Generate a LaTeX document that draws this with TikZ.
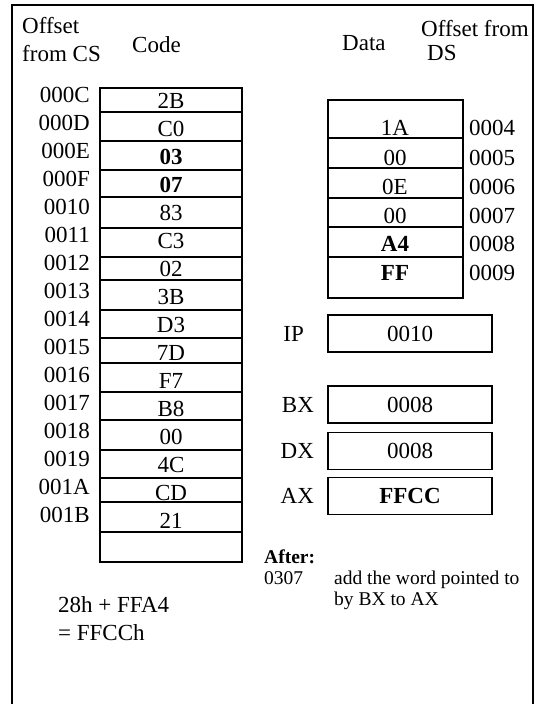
\documentclass[tikz,border=0pt]{standalone}
\usepackage{fontspec}
\setmainfont{Liberation Serif}
\usetikzlibrary{positioning}
\begin{document}
\begin{tikzpicture}[x=1pt,y=-1pt,line join=miter,
  big/.style={font=\fontsize{23}{26}\selectfont,inner sep=0pt},
  small/.style={font=\fontsize{19.5}{22}\selectfont,inner sep=0pt},
  cellline/.style={line width=1.8pt},
  reg/.style={draw,line width=1.8pt,minimum width=164pt,minimum height=37pt,inner sep=0pt,font=\fontsize{23}{26}\selectfont}]
  \useasboundingbox (0,0) rectangle (537,704);
  \draw[cellline] (12,704) -- (12,5) -- (533,5) -- (533,704);
  \node[big,anchor=base west] (hoff) at (22,33) {Offset};
  \node[big,anchor=base west] (hcs) at (22,61) {from CS};
  \node[big,anchor=base west] (hcode) at (132,52) {Code};
  \node[big,anchor=base west] (hdata) at (342,50) {Data};
  \node[big,anchor=base west] (hoffds) at (421,36) {Offset from};
  \node[big,anchor=base west] (hds) at (427,60) {DS};
  \draw[cellline] (100,88) rectangle (242,562);
  \foreach \y in {112,141,170,197,228,257,280,310,338,363,392,420,450,478,502,532}
    \draw[cellline] (100,\y) -- (242,\y);
  \foreach \t [count=\i from 0] in {2B,C0,\textbf{03},\textbf{07},83,C3,02,3B,D3,7D,F7,B8,00,4C,CD,21}
    \node[big,anchor=base] (c\i) at (171,108+28*\i) {\t};
  \foreach \a [count=\i from 0] in {000C,000D,000E,000F,0010,0011,0012,0013,0014,0015,0016,0017,0018,0019,001A,001B}
    \node[big,anchor=base east] (a\i) at (90,102+28*\i) {\a};
  \draw[cellline] (328,100) rectangle (463,298);
  \foreach \y in {138,168,198,227,257}
    \draw[cellline] (328,\y) -- (463,\y);
  \foreach \v/\o/\y [count=\i] in {1A/0004/135,00/0005/165,0E/0006/194,00/0007/223,\textbf{A4}/0008/251,\textbf{FF}/0009/280}{
    \node[big,anchor=base] (d\i) at (395,\y) {\v};
    \node[big,anchor=base west] (o\i) at (469,\y) {\o};
  }
  \node[reg] (ip) at (410,333.5) {0010};
  \node[reg] (bx) at (410,404.5) {0008};
  \node[reg] (dx) at (410,451) {0008};
  \node[reg] (ax) at (410,496) {\textbf{FFCC}};
  \node[big,left=23pt of ip] (ipl) {IP};
  \node[big,left=13pt of bx] (bxl) {BX};
  \node[big,left=13pt of dx] (dxl) {DX};
  \node[big,left=13pt of ax] (axl) {AX};
  \node[small,anchor=base west] (after) at (264,563) {\textbf{After:}};
  \node[small,anchor=base west] (op) at (264,584) {0307};
  \node[small,anchor=base west] (desc1) at (334,584) {add the word pointed to};
  \node[small,anchor=base west] (desc2) at (334,605) {by BX to AX};
  \node[big,anchor=base west] (sum1) at (58,612) {28h + FFA4};
  \node[big,anchor=base west] (sum2) at (58,640) {= FFCCh};
\end{tikzpicture}
\end{document}
